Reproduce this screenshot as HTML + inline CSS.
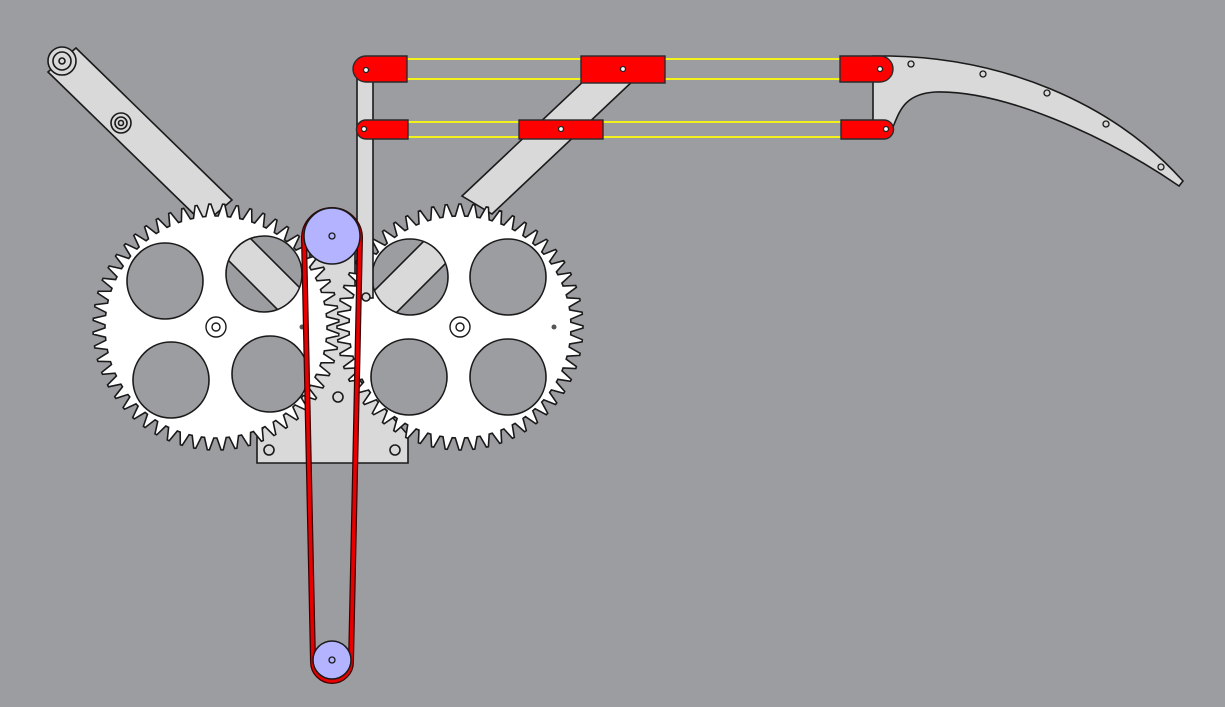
<!DOCTYPE html>
<html><head><meta charset="utf-8"><style>
html,body{margin:0;padding:0;background:#9c9da1;}
svg{display:block}
</style></head><body>
<svg id="s" width="1225" height="707" viewBox="0 0 1225 707" xmlns="http://www.w3.org/2000/svg">
<rect width="1225" height="707" fill="#9c9da1"/>
<g stroke="#1a1a1a" stroke-width="1.6" fill="#d9d9d9">
<polygon points="48,72 76,48 232,200 204,224"/>
<circle cx="62" cy="61" r="14"/><circle cx="62" cy="61" r="9" fill="none"/><circle cx="62" cy="61" r="3" fill="none"/>
<circle cx="121" cy="123" r="10"/><circle cx="121" cy="123" r="6" fill="none"/><circle cx="121" cy="123" r="2.5" fill="none"/>
<polygon points="606,60 636,78 492,214 462,196"/>
<polygon points="257,463 408,463 408,435 355,375 355,230 310,230 310,375 257,435"/>
</g>
<g id="gears"></g>
<g stroke="#1a1a1a" stroke-width="1.6" fill="#d9d9d9">
<circle cx="269" cy="450" r="5"/><circle cx="395" cy="450" r="5"/><circle cx="338" cy="397" r="5"/>
<rect x="357" y="62" width="16" height="236"/>
<circle cx="366" cy="297" r="4"/>
</g>
<g stroke="#f2f21a" stroke-width="2">
<line x1="405" y1="59" x2="842" y2="59"/><line x1="405" y1="79" x2="842" y2="79"/>
<line x1="405" y1="122" x2="842" y2="122"/><line x1="405" y1="137" x2="842" y2="137"/>
</g>
<path d="M873,56 L890,56 C1000,58 1110,100 1183,181 L1179,186 C1100,132 1000,90 935,92 C905,94 900,110 893,127 L873,127 Z" fill="#d9d9d9" stroke="#1a1a1a" stroke-width="1.6"/>
<g fill="none" stroke="#1a1a1a" stroke-width="1.3">
<circle cx="911" cy="64" r="3"/><circle cx="983" cy="74" r="3"/><circle cx="1047" cy="93" r="3"/><circle cx="1106" cy="124" r="3"/><circle cx="1161" cy="167" r="3"/>
</g>
<g fill="#ff0000" stroke="#2a2a2a" stroke-width="1.4">
<path d="M366,56 L407,56 L407,82 L366,82 A13,13 0 0 1 366,56 Z"/>
<rect x="581" y="56" width="84" height="27"/>
<path d="M840,56 L880,56 A13,13 0 0 1 880,82 L840,82 Z"/>
<path d="M366,120 L408,120 L408,139 L366,139 A9.5,9.5 0 0 1 366,120 Z"/>
<rect x="519" y="120" width="84" height="19"/>
<path d="M841,120 L884,120 A9.5,9.5 0 0 1 884,139 L841,139 Z"/>
</g>
<g fill="#fff" stroke="#222" stroke-width="1.3">
<circle cx="366" cy="70" r="2.5"/><circle cx="623" cy="69" r="2.5"/><circle cx="880" cy="69" r="2.5"/>
<circle cx="364" cy="129" r="2.5"/><circle cx="561" cy="129" r="2.5"/><circle cx="886" cy="129" r="2.5"/>
</g>
<g fill="none">
<path d="M304,238 A28,28 0 0 1 360,238 L351,662 A19,19 0 0 1 313,662 Z" stroke="#3a0000" stroke-width="6"/>
<path d="M304,238 A28,28 0 0 1 360,238 L351,662 A19,19 0 0 1 313,662 Z" stroke="#e80000" stroke-width="3.5"/>
</g>
<circle cx="332" cy="236" r="28" fill="#b3b3ff" stroke="#1a1a1a" stroke-width="1.5"/>
<circle cx="332" cy="236" r="3" fill="none" stroke="#1a1a1a" stroke-width="1.3"/>
<circle cx="332" cy="660" r="19" fill="#b3b3ff" stroke="#1a1a1a" stroke-width="1.5"/>
<circle cx="332" cy="660" r="3" fill="none" stroke="#1a1a1a" stroke-width="1.3"/>
</svg>
<script>
(function(){
var g=document.getElementById('gears'),NS='http://www.w3.org/2000/svg';
function el(t,a,p){var e=document.createElementNS(NS,t);for(var k in a)e.setAttribute(k,a[k]);(p||g).appendChild(e);return e;}
function gear(cx,cy,holes,slot,rot){
  var N=56,ro=123,ri=111,d='';
  for(var i=0;i<N;i++){
    var a=(i/N)*2*Math.PI+rot,s=2*Math.PI/N;
    var pts=[[ri,a],[ro,a+s*0.3],[ro,a+s*0.45],[ri,a+s*0.75]];
    pts.forEach(function(p,j){var x=cx+p[0]*Math.cos(p[1]),y=cy+p[0]*Math.sin(p[1]);d+=(i==0&&j==0?'M':'L')+x.toFixed(1)+','+y.toFixed(1);});
  }
  el('path',{d:d+'Z',fill:'#fff',stroke:'#1a1a1a','stroke-width':1.6});
  holes.forEach(function(h){el('circle',{cx:h[0],cy:h[1],r:38,fill:'#9c9da1',stroke:'#1a1a1a','stroke-width':1.6});});
  var h=slot[0],cid='c'+cx;
  el('circle',{cx:h[0],cy:h[1],r:38,fill:'#9c9da1'});
  var cp=el('clipPath',{id:cid});el('circle',{cx:h[0],cy:h[1],r:38},cp);
  el('polygon',{points:slot[1],fill:'#d9d9d9',stroke:'#1a1a1a','stroke-width':1.6,'clip-path':'url(#'+cid+')'});
  el('circle',{cx:h[0],cy:h[1],r:38,fill:'none',stroke:'#1a1a1a','stroke-width':1.6});
  el('circle',{cx:cx,cy:cy,r:10,fill:'#fff',stroke:'#1a1a1a','stroke-width':1.4});
  el('circle',{cx:cx,cy:cy,r:4,fill:'none',stroke:'#1a1a1a','stroke-width':1.4});
}
gear(216,327,[[165,281],[171,380],[270,374]],[[264,274],'235,223 315,303 293,325 213,245'],0.02);
gear(460,327,[[508,277],[409,377],[508,377]],[[410,277],'381,328 461,248 439,226 359,306'],0.07);
el('circle',{cx:302,cy:327,r:2.5,fill:'#555'});
el('circle',{cx:554,cy:327,r:2.5,fill:'#555'});
})();
</script>
</body></html>
